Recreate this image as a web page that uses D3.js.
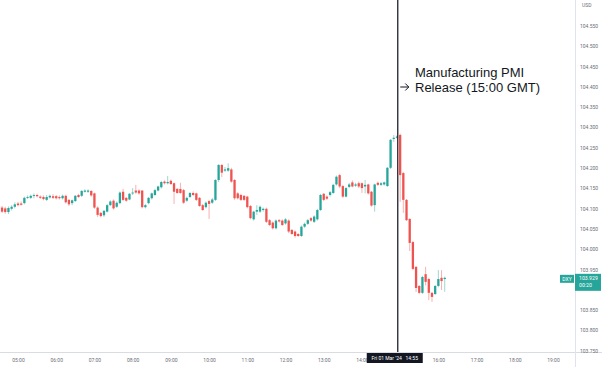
<!DOCTYPE html>
<html><head><meta charset="utf-8">
<script src="https://cdn.jsdelivr.net/npm/d3@7"></script>
<style>html,body{margin:0;padding:0;background:#fff;overflow:hidden}svg{display:block}</style>
</head><body><svg id="c" width="602" height="367"></svg>
<script>
// ---- data (DXY 5-minute candles, Fri 01 Mar 2024) ----
const firstCandle = "2024-03-01T04:30";
const candleMinutes = 5;
const opens = [104.106,104.102,104.100,104.091,104.099,104.104,104.112,104.112,104.113,104.126,
104.126,104.131,104.133,104.129,104.128,104.121,104.127,104.130,104.130,104.128,
104.125,104.131,104.121,104.113,104.118,104.133,104.131,104.141,104.141,104.143,
104.137,104.102,104.089,104.083,104.092,104.108,104.119,104.104,104.113,104.141,
104.126,104.122,104.137,104.144,104.144,104.144,104.103,104.113,104.125,104.133,
104.144,104.152,104.166,104.162,104.168,104.162,104.148,104.148,104.145,104.119,
104.128,104.138,104.137,104.126,104.108,104.103,104.118,104.114,104.121,104.170,
104.207,104.193,104.193,104.196,104.170,104.137,104.133,104.131,104.129,104.106,
104.073,104.092,104.092,104.096,104.099,104.071,104.065,104.051,104.071,104.070,
104.063,104.070,104.047,104.043,104.037,104.032,104.055,104.062,104.076,104.067,
104.073,104.096,104.136,104.129,104.133,104.138,104.159,104.182,104.155,104.129,
104.153,104.164,104.156,104.162,104.162,104.154,104.159,104.141,104.108,104.163,
104.158,104.159,104.155,104.200,104.271,104.274,104.281,104.187,104.121,104.074,
104.017,103.956,103.909,103.892,103.938,103.926,103.892,103.889,103.909,103.929,
103.926];
const highs = [104.111,104.106,104.104,104.105,104.108,104.115,104.116,104.117,104.129,104.132,
104.134,104.137,104.136,104.132,104.132,104.133,104.134,104.135,104.133,104.132,
104.134,104.134,104.123,104.122,104.133,104.136,104.145,104.147,104.147,104.145,
104.139,104.105,104.091,104.096,104.111,104.120,104.122,104.117,104.142,104.148,
104.128,104.138,104.150,104.158,104.147,104.145,104.111,104.128,104.139,104.148,
104.156,104.168,104.169,104.180,104.171,104.164,104.150,104.163,104.148,104.129,
104.140,104.142,104.139,104.128,104.111,104.117,104.121,104.126,104.172,104.209,
104.209,104.202,104.211,104.200,104.172,104.140,104.136,104.133,104.131,104.108,
104.094,104.108,104.107,104.102,104.102,104.074,104.068,104.073,104.074,104.073,
104.076,104.073,104.049,104.046,104.039,104.058,104.065,104.074,104.079,104.083,
104.099,104.136,104.138,104.132,104.143,104.160,104.181,104.185,104.158,104.153,
104.163,104.169,104.163,104.166,104.164,104.170,104.161,104.143,104.161,104.166,
104.165,104.166,104.202,104.271,104.281,104.280,104.284,104.190,104.123,104.076,
104.020,103.958,103.911,103.934,103.956,103.929,103.894,103.911,103.948,103.948,
103.932];
const lows = [104.094,104.089,104.087,104.086,104.095,104.100,104.105,104.107,104.110,104.123,
104.123,104.125,104.127,104.123,104.120,104.118,104.124,104.123,104.122,104.122,
104.122,104.112,104.106,104.108,104.116,104.126,104.128,104.139,104.138,104.129,
104.099,104.079,104.078,104.079,104.090,104.106,104.097,104.101,104.110,104.118,
104.116,104.120,104.133,104.136,104.134,104.100,104.100,104.110,104.122,104.131,
104.142,104.149,104.159,104.159,104.158,104.111,104.136,104.136,104.111,104.116,
104.126,104.131,104.118,104.104,104.094,104.100,104.074,104.111,104.118,104.165,
104.177,104.190,104.190,104.163,104.121,104.122,104.118,104.118,104.100,104.073,
104.070,104.084,104.089,104.092,104.064,104.057,104.048,104.048,104.065,104.057,
104.060,104.039,104.035,104.028,104.030,104.030,104.052,104.059,104.067,104.064,
104.070,104.094,104.118,104.121,104.129,104.136,104.156,104.150,104.126,104.127,
104.150,104.152,104.153,104.150,104.138,104.137,104.134,104.104,104.092,104.155,
104.155,104.156,104.153,104.197,104.264,104.272,104.116,104.089,104.069,103.995,
103.948,103.894,103.889,103.889,103.910,103.874,103.870,103.887,103.906,103.899,
103.895];
const closes = [104.099,104.092,104.091,104.101,104.104,104.110,104.108,104.109,104.126,104.128,
104.131,104.133,104.130,104.126,104.123,104.128,104.131,104.126,104.125,104.125,
104.131,104.115,104.110,104.120,104.131,104.128,104.143,104.144,104.144,104.132,
104.102,104.084,104.081,104.094,104.108,104.117,104.100,104.114,104.139,104.121,
104.119,104.136,104.139,104.139,104.137,104.103,104.108,104.126,104.137,104.145,
104.154,104.165,104.162,104.165,104.160,104.141,104.138,104.138,104.114,104.126,
104.138,104.133,104.121,104.106,104.096,104.114,104.111,104.122,104.170,104.207,
104.188,104.196,104.199,104.166,104.125,104.125,104.121,104.121,104.103,104.076,
104.092,104.096,104.104,104.099,104.067,104.059,104.051,104.070,104.068,104.059,
104.073,104.043,104.037,104.032,104.032,104.055,104.062,104.071,104.070,104.080,
104.096,104.133,104.121,104.124,104.140,104.158,104.178,104.154,104.129,104.150,
104.159,104.154,104.159,104.154,104.150,104.158,104.137,104.107,104.159,104.158,
104.162,104.164,104.200,104.269,104.274,104.277,104.182,104.121,104.071,104.015,
103.951,103.904,103.892,103.931,103.919,103.892,103.882,103.909,103.926,103.921,
103.929];
const priceTicks = [104.55,104.5,104.45,104.4,104.35,104.3,104.25,104.2,104.15,104.1,104.05,104.0,103.95,103.9,103.85,103.8,103.75];
const timeTicks = ["05:00","06:00","07:00","08:00","09:00","10:00","11:00","12:00","13:00","14:00","16:00","17:00","18:00","19:00"];
const currency = "USD";
const symbol = "DXY";
const lastPrice = 103.929;
const countdown = "00:20";
const crosshairTime = "2024-03-01T14:55";
const crosshairLabel = "Fri 01 Mar '24   14:55";
const annotation = ["Manufacturing PMI", "Release (15:00 GMT)"];

// ---- layout ----
const W = 602, H = 367, plotW = 575, plotH = 352;
const up = "#26a69a", down = "#ef5350";
const parse = d3.timeParse("%Y-%m-%dT%H:%M");
const day = "2024-03-01T";
const svg = d3.select("#c");

const x = d3.scaleTime().domain([parse(day + "05:00"), parse(day + "19:00")]).range([18, 553]);
const y = d3.scaleLinear().domain([103.7463, 104.6133]).range([plotH, 0]);

const t0 = parse(firstCandle);
const data = opens.map((o, i) => ({t: d3.timeMinute.offset(t0, i * candleMinutes), o, h: highs[i], l: lows[i], c: closes[i]}));

svg.append("defs").append("clipPath").attr("id", "plot").append("rect").attr("width", plotW).attr("height", plotH);
const g = svg.append("g").attr("clip-path", "url(#plot)");

const bw = 2.3;
g.selectAll("line.wick").data(data).join("line").attr("class", "wick")
  .attr("x1", d => x(d.t)).attr("x2", d => x(d.t))
  .attr("y1", d => y(d.h)).attr("y2", d => y(d.l))
  .attr("stroke", d => d.c >= d.o ? up : down).attr("stroke-opacity", 0.45).attr("stroke-width", 1);
g.selectAll("rect.body").data(data).join("rect").attr("class", "body")
  .attr("x", d => x(d.t) - bw / 2).attr("width", bw)
  .attr("y", d => y(Math.max(d.o, d.c)))
  .attr("height", d => Math.max(0.9, Math.abs(y(d.o) - y(d.c))))
  .attr("fill", d => d.c >= d.o ? up : down);

// axes borders
svg.append("line").attr("x1", 0).attr("x2", W).attr("y1", plotH + 0.5).attr("y2", plotH + 0.5).attr("stroke", "#d9dce3");
svg.append("line").attr("x1", plotW + 0.5).attr("x2", plotW + 0.5).attr("y1", 0).attr("y2", H).attr("stroke", "#e0e3eb");

const font = "Roboto, 'Noto Sans', sans-serif";
// price axis (labels hidden behind the last-price box are skipped)
const yl = y(lastPrice);
const visibleTicks = priceTicks.filter(p => Math.abs(y(p) - (yl + 5)) > 9);
const ay = svg.append("g").attr("transform", `translate(${plotW + 5},0)`)
  .call(d3.axisRight(y).tickValues(visibleTicks).tickFormat(d3.format(".3f")).tickSize(0).tickPadding(0));
ay.select(".domain").remove();
ay.selectAll("text").attr("font-family", font).attr("font-size", 5).attr("fill", "#6b6e78").attr("dy", "0.35em");
svg.append("text").attr("x", plotW + 7).attr("y", 7).text(currency)
  .attr("font-family", font).attr("font-size", 5).attr("fill", "#6b6e78");

// time axis
const ax = svg.append("g").attr("transform", `translate(0,${plotH})`)
  .call(d3.axisBottom(x).tickValues(timeTicks.map(s => parse(day + s))).tickFormat(d3.timeFormat("%H:%M")).tickSize(0).tickPadding(6));
ax.select(".domain").remove();
ax.selectAll("text").attr("font-family", font).attr("font-size", 5).attr("fill", "#6b6e78");

// last price label
svg.append("rect").attr("x", plotW).attr("y", yl - 4).attr("width", 26).attr("height", 17).attr("fill", up);
svg.append("text").attr("x", plotW + 4).attr("y", yl + 2).text(d3.format(".3f")(lastPrice))
  .attr("font-family", font).attr("font-size", 5.2).attr("fill", "#fff");
svg.append("text").attr("x", plotW + 4).attr("y", yl + 9.5).text(countdown)
  .attr("font-family", font).attr("font-size", 5.2).attr("fill", "#fff");
svg.append("rect").attr("x", 560).attr("y", yl - 3).attr("width", 14).attr("height", 8).attr("fill", up);
svg.append("text").attr("x", 567).attr("y", yl + 2.8).attr("text-anchor", "middle").text(symbol)
  .attr("font-family", font).attr("font-size", 5).attr("fill", "#fff");

// crosshair
const xc = x(parse(crosshairTime)) + 0.8;
svg.append("line").attr("x1", xc).attr("x2", xc).attr("y1", 0).attr("y2", plotH)
  .attr("stroke", "#1e222d").attr("stroke-width", 1.3);
svg.append("rect").attr("x", xc - 31).attr("y", plotH + 1).attr("width", 56).attr("height", 10).attr("fill", "#131722");
svg.append("text").attr("x", xc - 3).attr("y", plotH + 7.8).attr("text-anchor", "middle").text(crosshairLabel)
  .attr("font-family", font).attr("font-size", 5).attr("fill", "#fff").style("white-space", "pre");

// annotation
const ann = svg.append("g").attr("font-family", "'Liberation Sans', Arial, sans-serif").attr("fill", "#131722");
ann.append("text").attr("x", 415).attr("y", 77).attr("font-size", 13).text(annotation[0]);
ann.append("text").attr("x", 415).attr("y", 92).attr("font-size", 13).text(annotation[1]);
const ay0 = 87;
ann.append("path")
  .attr("d", `M${xc + 2.5},${ay0}H${xc + 11}M${xc + 7.5},${ay0 - 3.5}L${xc + 11},${ay0}L${xc + 7.5},${ay0 + 3.5}`)
  .attr("fill", "none").attr("stroke", "#131722").attr("stroke-width", 1);
</script></body></html>
